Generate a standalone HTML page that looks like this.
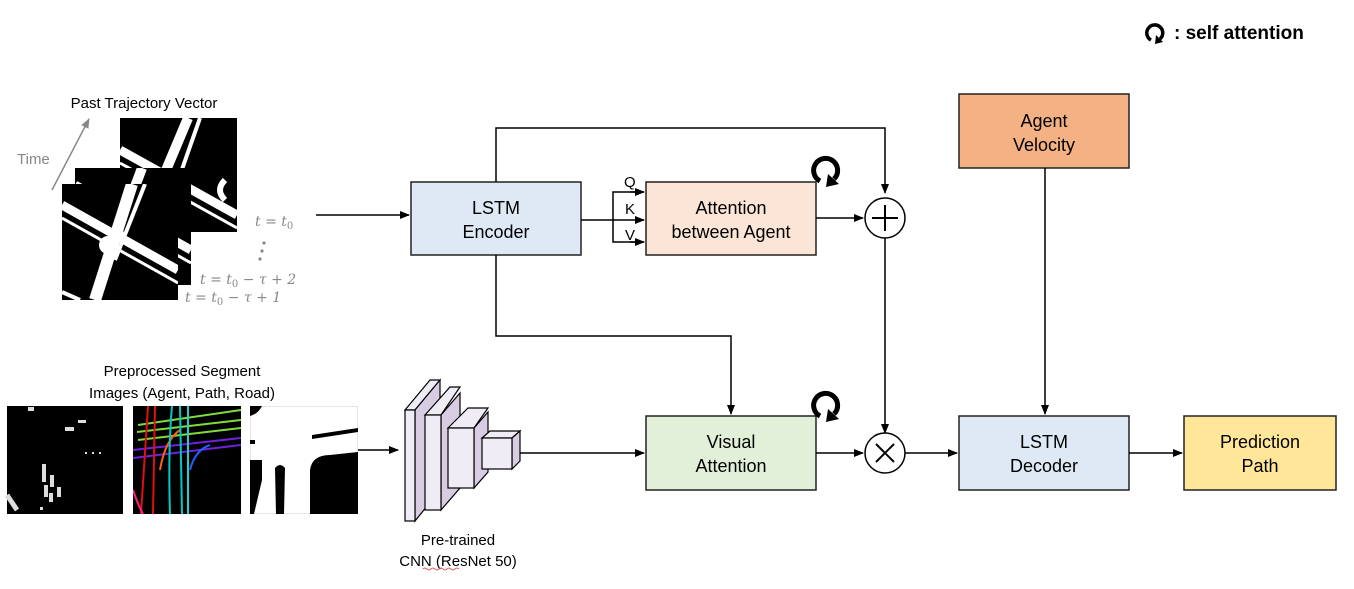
<!DOCTYPE html>
<html><head><meta charset="utf-8"><style>
html,body{margin:0;padding:0;background:#fff;}
svg{display:block;font-family:"Liberation Sans","Noto Sans CJK KR",sans-serif;}
</style></head><body>
<svg width="1354" height="589" viewBox="0 0 1354 589" xmlns="http://www.w3.org/2000/svg">
<defs>
<marker id="a" markerWidth="10" markerHeight="8" refX="9" refY="4" orient="auto" markerUnits="userSpaceOnUse"><path d="M0,0 L10,4 L0,8 z" fill="#000"/></marker>
<marker id="g" markerWidth="10" markerHeight="8" refX="9" refY="4" orient="auto" markerUnits="userSpaceOnUse"><path d="M0,0 L10,4 L0,8 z" fill="#888"/></marker>
<clipPath id="c1"><rect x="120" y="118" width="117" height="114"/></clipPath>
<clipPath id="c2"><rect x="75" y="168" width="116" height="117"/></clipPath>
<clipPath id="c3"><rect x="62" y="184" width="116" height="116"/></clipPath>
<clipPath id="c4"><rect x="133" y="406" width="108" height="108"/></clipPath>
<clipPath id="c5"><rect x="250" y="406" width="108" height="108"/></clipPath>
</defs>

<!-- legend -->
<g transform="translate(1155,33)"><path d="M-4,7 A8,8 0 1 1 5,6" fill="none" stroke="#000" stroke-width="3.5"/><path d="M1,2 L8,9 L0,11 z" fill="#000"/></g>
<text x="1174" y="39" font-size="19" font-weight="bold">: self attention</text>

<!-- past trajectory -->
<text x="144" y="108" font-size="15" text-anchor="middle">Past Trajectory Vector</text>
<text x="17" y="164" font-size="15" fill="#888">Time</text>
<line x1="52" y1="190" x2="89" y2="119" stroke="#888" stroke-width="1.5" marker-end="url(#g)"/>

<g clip-path="url(#c1)"><rect x="120" y="118" width="117" height="114" fill="#000"/>
<g stroke="#fff" fill="none"><path d="M120,150 L237,215" stroke-width="9"/><path d="M120,163 L237,228" stroke-width="3"/><path d="M188,118 L140,232" stroke-width="10"/><path d="M200,118 L160,232" stroke-width="4"/><path d="M225,180 Q215,190 225,200" stroke-width="6"/></g></g>
<g clip-path="url(#c2)"><rect x="75" y="168" width="116" height="117" fill="#000"/>
<g stroke="#fff" fill="none"><path d="M75,185 L191,250" stroke-width="9"/><path d="M75,198 L191,263" stroke-width="3"/><path d="M142,168 L98,285" stroke-width="10"/></g></g>
<g clip-path="url(#c3)"><rect x="62" y="184" width="116" height="116" fill="#000"/>
<g stroke="#fff" fill="none"><path d="M62,205 L178,270" stroke-width="9"/><path d="M62,218 L178,283" stroke-width="3"/><path d="M132,184 L95,300" stroke-width="12"/><path d="M145,184 L115,260" stroke-width="4"/><path d="M62,292 L80,300" stroke-width="4"/></g>
<circle cx="108" cy="245" r="9" fill="#fff"/><circle cx="120" cy="235" r="5" fill="#fff"/></g>

<g font-family="'DejaVu Serif',serif" font-style="italic" fill="#888" font-size="14">
<text x="255" y="226">t = t<tspan font-size="10" dy="3" font-style="normal">0</tspan></text>
<text x="200" y="284">t = t<tspan font-size="10" dy="3" font-style="normal">0</tspan><tspan dy="-3"> − τ + 2</tspan></text>
<text x="185" y="302">t = t<tspan font-size="10" dy="3" font-style="normal">0</tspan><tspan dy="-3"> − τ + 1</tspan></text>
</g>
<circle cx="264" cy="243" r="1.6" fill="#888"/><circle cx="262" cy="251" r="1.6" fill="#888"/><circle cx="260" cy="259" r="1.6" fill="#888"/>

<line x1="316" y1="215" x2="409" y2="215" stroke="#000" stroke-width="1.5" marker-end="url(#a)"/>

<!-- LSTM Encoder -->
<rect x="411" y="182" width="170" height="73" fill="#dee9f5" stroke="#222" stroke-width="1.5"/>
<text x="496" y="214" font-size="18" text-anchor="middle">LSTM</text>
<text x="496" y="238" font-size="18" text-anchor="middle">Encoder</text>

<!-- QKV -->
<line x1="581" y1="220" x2="644" y2="220" stroke="#000" stroke-width="1.5" marker-end="url(#a)"/>
<path d="M644,192 L613,192 L613,242 L644,242" fill="none" stroke="#000" stroke-width="1.5"/>
<line x1="630" y1="192" x2="644" y2="192" stroke="#000" stroke-width="1.5" marker-end="url(#a)"/>
<line x1="630" y1="242" x2="644" y2="242" stroke="#000" stroke-width="1.5" marker-end="url(#a)"/>
<text x="624" y="187" font-size="15">Q</text>
<text x="625" y="214" font-size="15">K</text>
<text x="625" y="240" font-size="15">V</text>

<rect x="646" y="182" width="170" height="73" fill="#fbe5d6" stroke="#222" stroke-width="1.5"/>
<text x="731" y="214" font-size="18" text-anchor="middle">Attention</text>
<text x="731" y="238" font-size="18" text-anchor="middle">between Agent</text>
<g transform="translate(826,170)"><path d="M-6,11 A12,12 0 1 1 8,9" fill="none" stroke="#000" stroke-width="5"/><path d="M2,4 L13,14 L0,17 z" fill="#000"/></g>

<!-- top bypass -->
<path d="M496,182 L496,128 L885,128 L885,193" fill="none" stroke="#000" stroke-width="1.5" marker-end="url(#a)"/>
<line x1="816" y1="218" x2="863" y2="218" stroke="#000" stroke-width="1.5" marker-end="url(#a)"/>
<circle cx="885" cy="218" r="20" fill="#fff" stroke="#000" stroke-width="1.5"/>
<path d="M872,218 H898 M885,205 V231" stroke="#000" stroke-width="2"/>
<line x1="885" y1="238" x2="885" y2="433" stroke="#000" stroke-width="1.5" marker-end="url(#a)"/>

<!-- encoder to visual -->
<path d="M496,255 L496,336 L731,336 L731,414" fill="none" stroke="#000" stroke-width="1.5" marker-end="url(#a)"/>

<rect x="646" y="416" width="170" height="74" fill="#e2f0d9" stroke="#222" stroke-width="1.5"/>
<text x="731" y="448" font-size="18" text-anchor="middle">Visual</text>
<text x="731" y="472" font-size="18" text-anchor="middle">Attention</text>
<g transform="translate(826,405)"><path d="M-6,11 A12,12 0 1 1 8,9" fill="none" stroke="#000" stroke-width="5"/><path d="M2,4 L13,14 L0,17 z" fill="#000"/></g>

<line x1="816" y1="453" x2="863" y2="453" stroke="#000" stroke-width="1.5" marker-end="url(#a)"/>
<circle cx="885" cy="453" r="20" fill="#fff" stroke="#000" stroke-width="1.5"/>
<path d="M876,444 L894,462 M894,444 L876,462" stroke="#000" stroke-width="2"/>
<line x1="905" y1="453" x2="957" y2="453" stroke="#000" stroke-width="1.5" marker-end="url(#a)"/>

<rect x="959" y="94" width="170" height="74" fill="#f4b183" stroke="#222" stroke-width="1.5"/>
<text x="1044" y="127" font-size="18" text-anchor="middle">Agent</text>
<text x="1044" y="151" font-size="18" text-anchor="middle">Velocity</text>
<line x1="1045" y1="168" x2="1045" y2="414" stroke="#000" stroke-width="1.5" marker-end="url(#a)"/>

<rect x="959" y="416" width="170" height="74" fill="#dee9f5" stroke="#222" stroke-width="1.5"/>
<text x="1044" y="448" font-size="18" text-anchor="middle">LSTM</text>
<text x="1044" y="472" font-size="18" text-anchor="middle">Decoder</text>
<line x1="1129" y1="453" x2="1182" y2="453" stroke="#000" stroke-width="1.5" marker-end="url(#a)"/>
<rect x="1184" y="416" width="152" height="74" fill="#ffe699" stroke="#222" stroke-width="1.5"/>
<text x="1260" y="448" font-size="18" text-anchor="middle">Prediction</text>
<text x="1260" y="472" font-size="18" text-anchor="middle">Path</text>

<!-- segment images -->
<text x="182" y="376" font-size="15" text-anchor="middle">Preprocessed Segment</text>
<text x="182" y="398" font-size="15" text-anchor="middle">Images (Agent, Path, Road)</text>
<rect x="7" y="406" width="116" height="108" fill="#000"/>
<g fill="#ddd"><rect x="28" y="407" width="6" height="4"/><rect x="65" y="427" width="9" height="4"/><rect x="78" y="420" width="8" height="3"/><rect x="42" y="464" width="4" height="18"/><rect x="50" y="475" width="4" height="12"/><rect x="44" y="485" width="4" height="12"/><rect x="57" y="487" width="4" height="10"/><rect x="49" y="493" width="4" height="9"/><rect x="85" y="452" width="2" height="2"/><rect x="92" y="452" width="2" height="2"/><rect x="99" y="452" width="2" height="2"/><rect x="40" y="507" width="3" height="3"/></g>
<path d="M7,495 L17,510" stroke="#ddd" stroke-width="5"/>
<g clip-path="url(#c4)"><rect x="133" y="406" width="108" height="108" fill="#000"/>
<g fill="none" stroke-width="2">
<path d="M138,425 L241,410" stroke="#7fdc3a"/><path d="M137,432 L241,420" stroke="#7fdc3a"/><path d="M138,440 L241,428" stroke="#7fdc3a"/>
<path d="M133,450 L241,438" stroke="#7020e0"/><path d="M133,458 L241,445" stroke="#7020e0"/>
<path d="M148,406 L141,514" stroke="#e01010"/><path d="M155,406 L153,514" stroke="#e01010"/><path d="M160,470 Q165,440 180,430" stroke="#ff6010"/>
<path d="M172,406 Q168,450 170,514" stroke="#00c8c8"/><path d="M180,406 L182,514" stroke="#00c8c8"/><path d="M188,406 L188,514" stroke="#20d0d0"/><path d="M190,470 Q195,450 210,445" stroke="#2060ff"/>
<path d="M133,490 Q138,505 143,514" stroke="#ff2080"/></g></g>
<g clip-path="url(#c5)"><rect x="250" y="406" width="108" height="108" fill="#fff" stroke="#ccc"/>
<path d="M250,406 L262,406 Q258,414 250,416 z" fill="#000"/>
<path d="M312,435 L358,428 L358,432 L312,439 z" fill="#000"/>
<path d="M250,460 L262,460 L262,480 L254,514 L250,514 z" fill="#000"/>
<path d="M275,468 Q280,462 285,468 L284,514 L276,514 z" fill="#000"/>
<path d="M310,514 L310,470 Q312,455 330,455 L358,452 L358,514 z" fill="#000"/>
<rect x="250" y="440" width="5" height="4" fill="#000"/></g>
<line x1="358" y1="450" x2="398" y2="450" stroke="#000" stroke-width="1.5" marker-end="url(#a)"/>

<!-- CNN -->
<g stroke="#000" stroke-width="1.2">
<path d="M405,410 L430,380 L440,380 L415,410 z" fill="#f0ecf5"/><path d="M415,410 L440,380 L440,490 L415,521 z" fill="#d8cce3"/><rect x="405" y="410" width="10" height="111" fill="#f0ecf5"/>
<path d="M425,415 L450,387 L460,387 L441,415 z" fill="#f0ecf5"/><path d="M441,415 L460,393 L460,488 L441,510 z" fill="#d8cce3"/><rect x="425" y="415" width="16" height="95" fill="#f0ecf5"/>
<path d="M448,428 L468,408 L488,408 L474,428 z" fill="#f0ecf5"/><path d="M474,428 L488,412 L488,472 L474,488 z" fill="#d8cce3"/><rect x="448" y="428" width="26" height="60" fill="#f0ecf5"/>
<path d="M482,438 L490,431 L520,431 L512,438 z" fill="#f0ecf5"/><path d="M512,438 L520,431 L520,461 L512,469 z" fill="#d8cce3"/><rect x="482" y="438" width="30" height="31" fill="#f0ecf5"/>
</g>
<line x1="520" y1="453" x2="644" y2="453" stroke="#000" stroke-width="1.5" marker-end="url(#a)"/>
<text x="458" y="545" font-size="15" text-anchor="middle">Pre-trained</text>
<text x="458" y="566" font-size="15" text-anchor="middle">CNN (ResNet 50)</text>
<path d="M423,569 q2,-2 4,0 t4,0 t4,0 t4,0 t4,0 t4,0 t4,0 t4,0 t4,0" fill="none" stroke="#e03030" stroke-width="0.8"/>
</svg>
</body></html>
